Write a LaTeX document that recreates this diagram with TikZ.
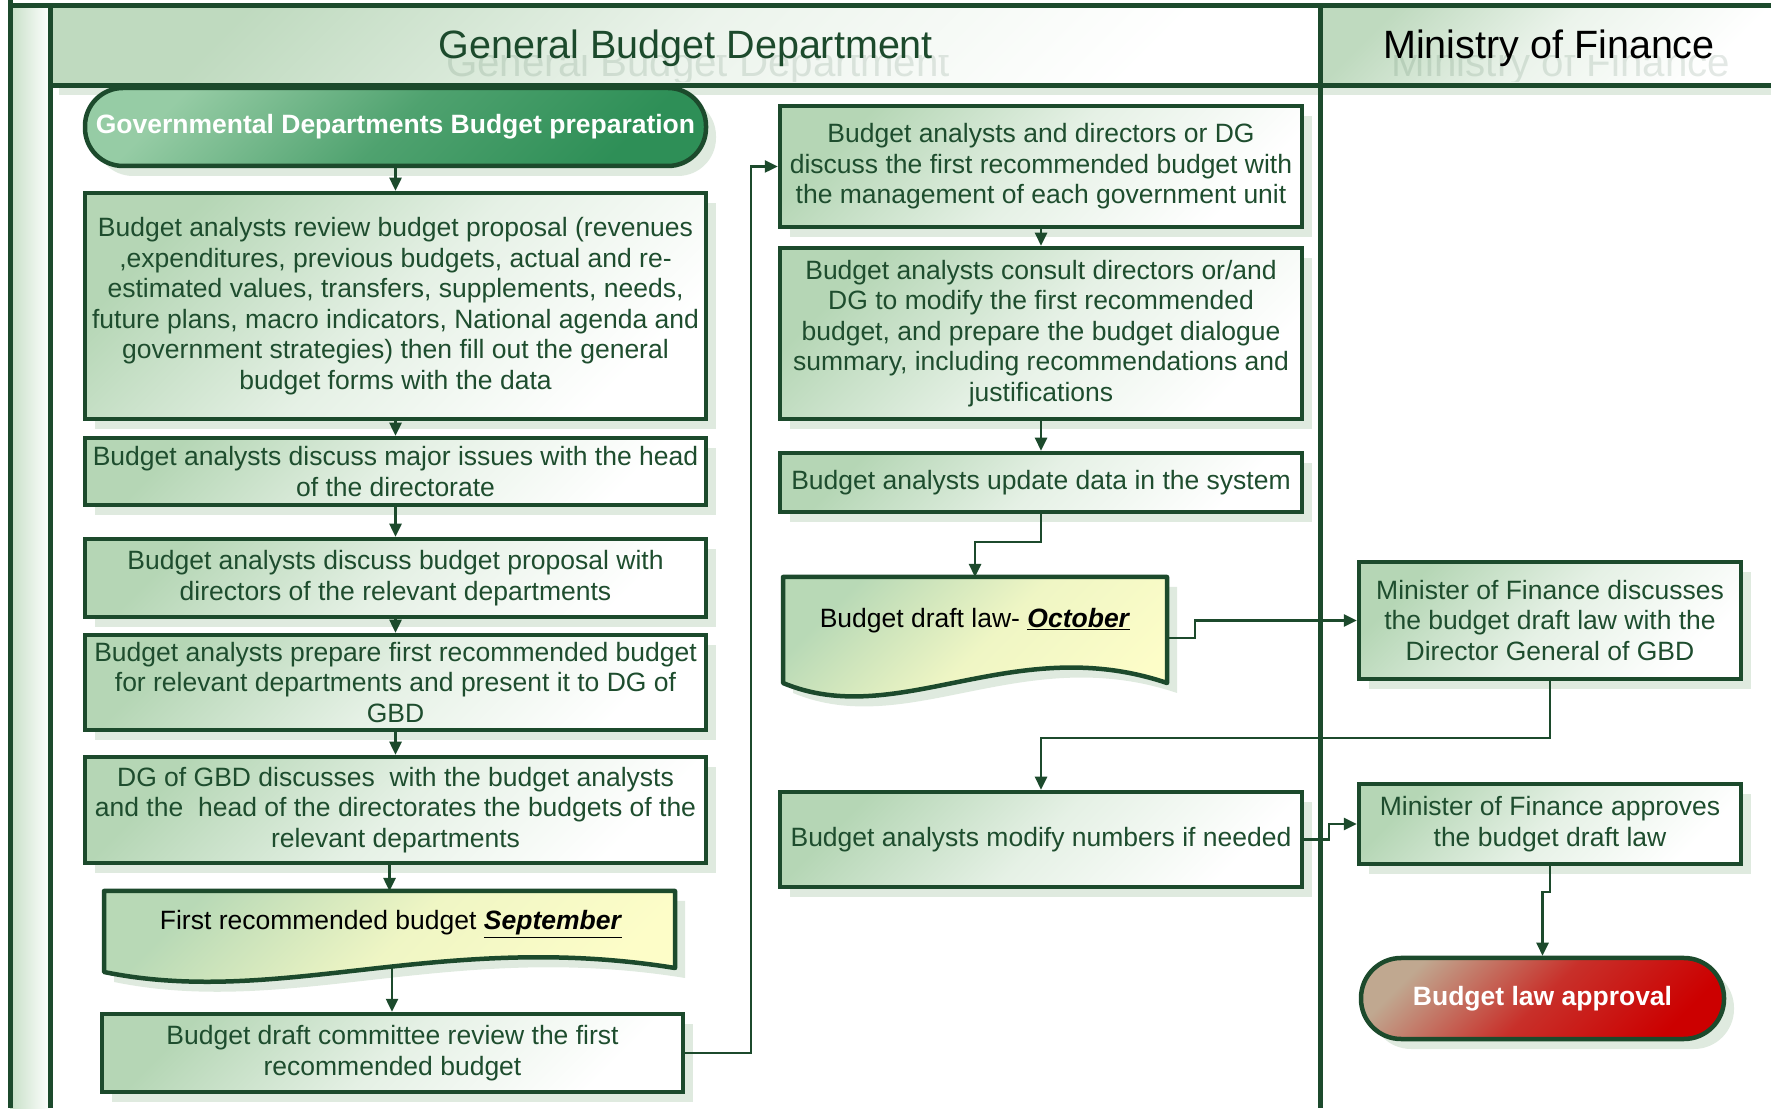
\documentclass[tikz,border=0pt]{standalone}
\usepackage{fontspec}
\setmainfont{Liberation Sans}
\usetikzlibrary{shadows,arrows.meta,calc}
\definecolor{darkg}{HTML}{1C4A2C}
\definecolor{txtg}{HTML}{1E4D2E}
\definecolor{boxg}{HTML}{B5D6B5}
\definecolor{shadg}{HTML}{DFEADF}
\definecolor{docg}{HTML}{B8D9B6}
\definecolor{docy}{HTML}{FDFDC8}
\definecolor{startl}{HTML}{96CCA5}
\definecolor{startm}{HTML}{4FA26F}
\definecolor{startr}{HTML}{2E8F57}
\definecolor{endl}{HTML}{C0A890}
\definecolor{endm}{HTML}{C8302A}
\definecolor{endr}{HTML}{CC0000}
\definecolor{headg}{HTML}{BFDABF}
\definecolor{laneg}{HTML}{C6DFC6}
\tikzset{
  bodyfont/.style={font=\fontsize{26.5}{30.5}\selectfont},
  shad/.style={drop shadow={shadow xshift=10pt, shadow yshift=-10pt, fill=shadg, opacity=1}},
  procbox/.style={draw=darkg, line width=4.5pt, top color=boxg, bottom color=white,
    middle color=boxg!35!white, shading angle=45, text=txtg, align=center,
    inner sep=0pt, bodyfont, shad},
  term/.style={draw=darkg, line width=4.5pt, align=center, inner sep=0pt, text=white,
    font=\fontsize{26.5}{30.5}\selectfont\bfseries, shad},
  doctext/.style={text=black, inner sep=0pt, bodyfont},
  anchorbox/.style={draw=none, inner sep=0pt, outer sep=0pt},
  arr/.style={draw=darkg, line width=2.5pt, -{Triangle[length=13pt,width=12pt]}},
  frameline/.style={draw=darkg, line width=5pt},
  headtext/.style={font=\fontsize{39.5}{45}\selectfont, inner sep=0pt},
}
\begin{document}
\begin{tikzpicture}[x=1pt,y=1pt]
\useasboundingbox (0,0) rectangle (1771,1108);
\clip (0,0) rectangle (1771,1108);

% header shadows and fills
\fill[shadg] (59,1093) rectangle (1329,1013);
\fill[shadg] (1329,1093) rectangle (1780,1013);
\shade[top color=headg, bottom color=white, middle color=headg!30!white, shading angle=45] (50,1102) rectangle (1320,1022);
\shade[top color=headg, bottom color=white, middle color=headg!30!white, shading angle=45] (1320,1102) rectangle (1771,1022);
% lane bar
\shade[left color=laneg, right color=white] (10,1102) rectangle (50,0);

% header titles with faint reflections
\begin{scope}
  \clip (50,1052) rectangle (1771,1026);
  \node[headtext, text=darkg, opacity=0.12, scale=1.02] (gbdr) at (698,1042) {General Budget Department};
  \node[headtext, text=darkg, opacity=0.12, scale=1.02] (mofr) at (1561,1042) {Ministry of Finance};
\end{scope}
\node[headtext, text=darkg] (gbdh) at (686,1059.5) {General Budget Department};
\node[headtext, text=black] (mofh) at (1549,1059.5) {Ministry of Finance};

% frame lines
\draw[frameline] (10.5,1108) -- (10.5,0);
\draw[frameline] (8,1102) -- (1771,1102);
\draw[frameline] (50.5,1102) -- (50.5,0);
\draw[frameline] (50,1022) -- (1771,1022);
\draw[frameline] (1320,1102) -- (1320,0);

% left column
\node[term, rounded corners=38pt, minimum width=621pt, minimum height=78pt,
  top color=startl, bottom color=startr, middle color=startm, shading angle=45]
  (start) at (395.5,981) {Governmental Departments Budget preparation};
\node[procbox, minimum width=621pt, minimum height=226pt] (b1) at (395.5,802)
  {Budget analysts review budget proposal (revenues\\,expenditures, previous budgets, actual and re-\\estimated values, transfers, supplements, needs,\\future plans, macro indicators, National agenda and\\government strategies) then fill out the general\\budget forms with the data};
\node[procbox, minimum width=621pt, minimum height=67pt] (b2) at (395.5,636.5)
  {Budget analysts discuss major issues with the head\\of the directorate};
\node[procbox, minimum width=621pt, minimum height=78pt] (b3) at (395.5,530)
  {Budget analysts discuss budget proposal with\\directors of the relevant departments};
\node[procbox, minimum width=621pt, minimum height=95pt] (b4) at (395.5,425.5)
  {Budget analysts prepare first recommended budget\\for relevant departments and present it to DG of\\GBD};
\node[procbox, minimum width=621pt, minimum height=106pt] (b5) at (395.5,298)
  {DG of GBD discusses~ with the budget analysts\\and the~ head of the directorates the budgets of the\\relevant departments};

% document: first recommended budget
\begin{scope}[shift={(10,-10)}]
  \fill[shadg] (104,217) -- (675,217) -- (675,140) .. controls (440,178) and (280,100) .. (104,136) -- cycle;
\end{scope}
\draw[draw=darkg, line width=4.5pt, line join=round, top color=docg, bottom color=docy,
  middle color=docy!80!docg, shading angle=45]
  (104,217) -- (675,217) -- (675,140) .. controls (440,178) and (280,100) .. (104,136) -- cycle;
\node[anchorbox, minimum width=571pt, minimum height=81pt] (docS) at (389.5,176.5) {};
\node[doctext] (docSt) at (391,184) {First recommended budget \underline{\textbf{\textit{September}}}};
\coordinate (docSb) at (392,142);

\node[procbox, minimum width=581pt, minimum height=78pt] (b6) at (392.5,55)
  {Budget draft committee review the first\\recommended budget};

% middle column
\node[procbox, minimum width=522pt, minimum height=121pt] (m1) at (1041,941.5)
  {Budget analysts and directors or DG\\discuss the first recommended budget with\\the management of each government unit};
\node[procbox, minimum width=522pt, minimum height=171pt] (m2) at (1041,774.5)
  {Budget analysts consult directors or/and\\DG to modify the first recommended\\budget, and prepare the budget dialogue\\summary, including recommendations and\\justifications};
\node[procbox, minimum width=522pt, minimum height=59pt] (m3) at (1041,625.5)
  {Budget analysts update data in the system};

% document: budget draft law
\begin{scope}[shift={(10,-10)}]
  \fill[shadg] (783,531) -- (1167,531) -- (1167,425) .. controls (1013,477) and (898,377) .. (783,425) -- cycle;
\end{scope}
\draw[draw=darkg, line width=4.5pt, line join=round, top color=docg, bottom color=docy,
  middle color=docy!80!docg, shading angle=45]
  (783,531) -- (1167,531) -- (1167,425) .. controls (1013,477) and (898,377) .. (783,425) -- cycle;
\node[anchorbox, minimum width=384pt, minimum height=106pt] (docO) at (975,478) {};
\node[doctext] (docOt) at (975,487) {Budget draft law- \underline{\textbf{\textit{October}}}};
\coordinate (docOr) at (1167,470);

\node[procbox, minimum width=522pt, minimum height=95pt] (m4) at (1041,268.5)
  {Budget analysts modify numbers if needed};

% right column
\node[procbox, minimum width=382pt, minimum height=117pt] (r1) at (1550,487.5)
  {Minister of Finance discusses\\the budget draft law with the\\Director General of GBD};
\node[procbox, minimum width=382pt, minimum height=80pt] (r2) at (1550,284)
  {Minister of Finance approves\\the budget draft law};
\node[term, rounded corners=40pt, minimum width=363pt, minimum height=81pt,
  top color=endl, bottom color=endr, middle color=endm, shading angle=45]
  (endn) at (1542.5,109.5) {Budget law approval};

% connectors
\draw[arr] (start) -- (b1);
\draw[arr] (b1) -- (b2);
\draw[arr] (b2) -- (b3);
\draw[arr] (b3) -- (b4);
\draw[arr] (b4) -- (b5);
\draw[arr] (docS.north |- b5.south) -- (docS.north);
\draw[arr] (docSb) -- (docSb |- b6.north);
\coordinate (j1) at (751,55);
\draw[arr] (b6.east) -- (j1) |- (m1.west);
\draw[arr] (m1) -- (m2);
\draw[arr] (m2) -- (m3);
\coordinate (j2) at (1041,566);
\draw[arr] (m3.south) -- (j2) -| (docO.north);
\coordinate (j3) at (1195,470);
\draw[arr] (docOr) -- (j3) |- (r1.west);
\coordinate (j4) at (1550,370);
\draw[arr] (r1.south) -- (j4) -| (m4.north);
\coordinate (j5) at (1329,268.5);
\draw[arr] (m4.east) -- (j5) |- (r2.west);
\coordinate (j6) at (1550,216);
\draw[arr] (r2.south) -- (j6) -| (endn.north);
\end{tikzpicture}
\end{document}
